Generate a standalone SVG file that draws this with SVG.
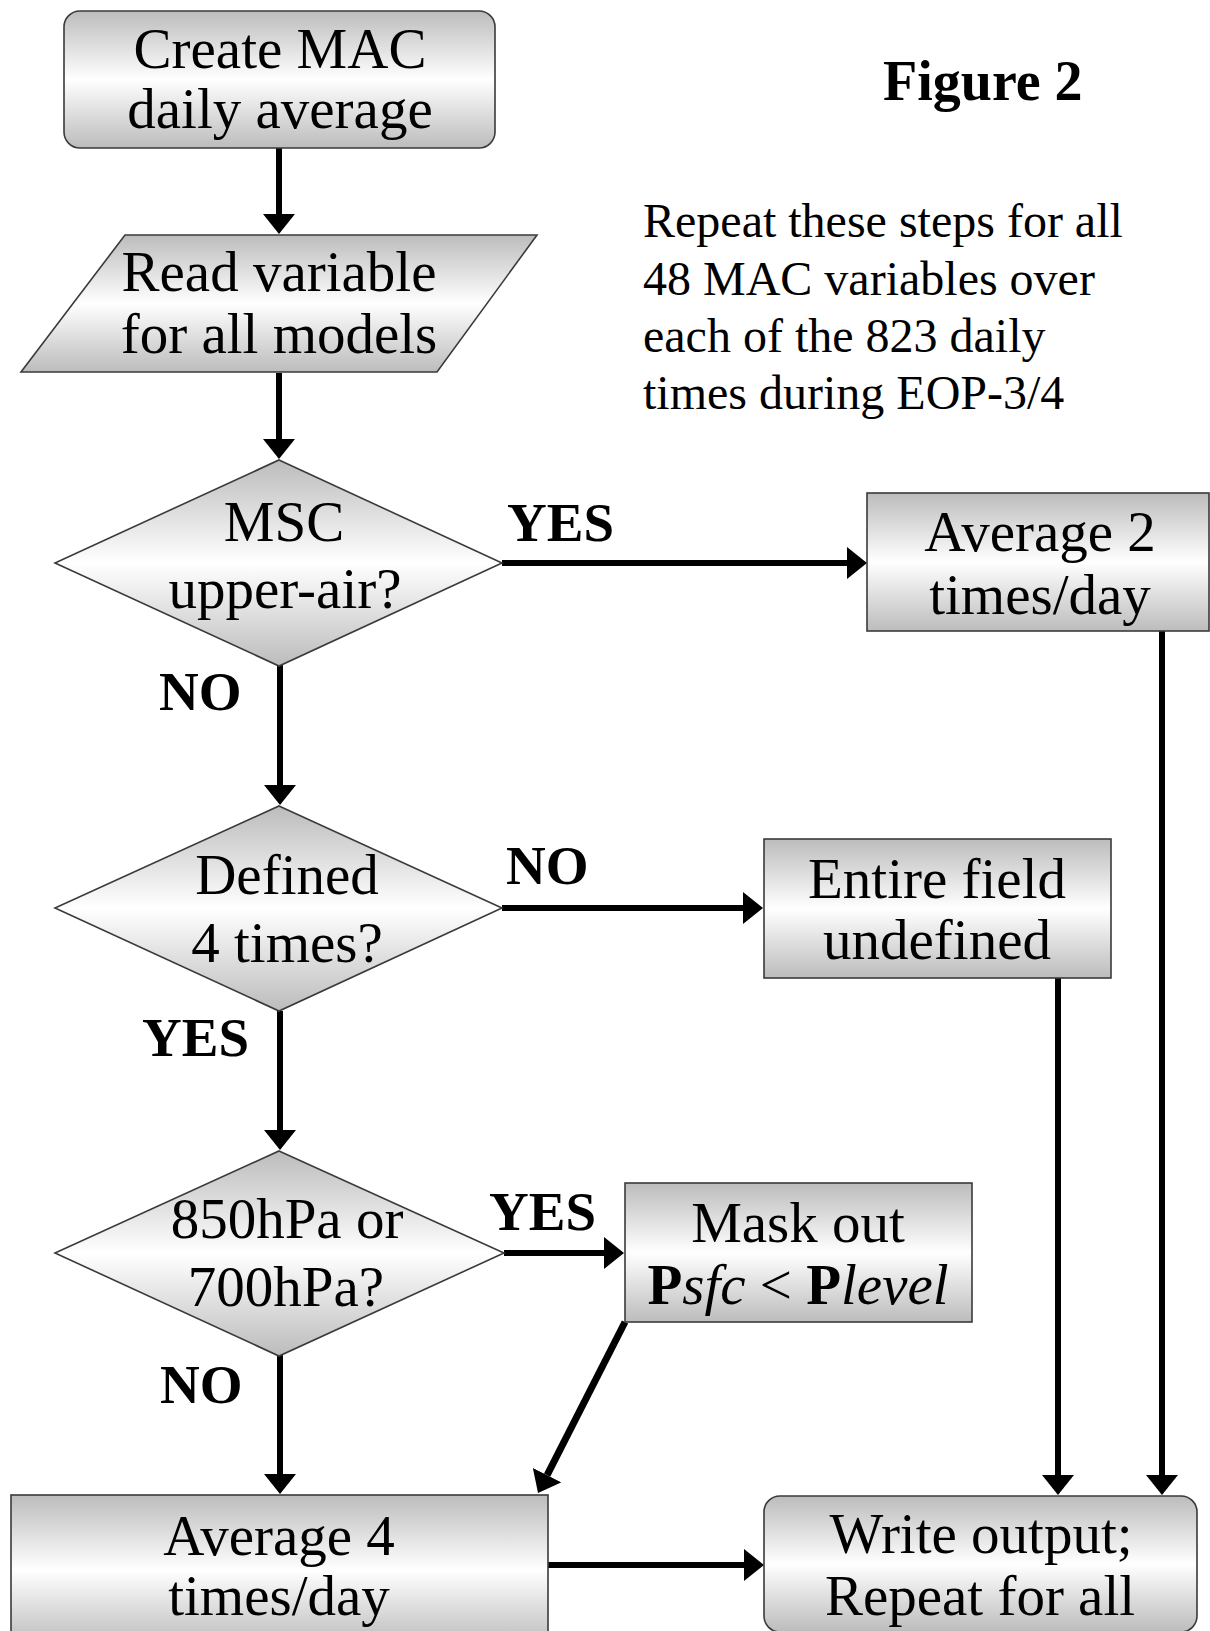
<svg xmlns="http://www.w3.org/2000/svg" width="1210" height="1631" viewBox="0 0 1210 1631">
<defs>
<linearGradient id="g" x1="0" y1="0" x2="0" y2="1">
<stop offset="0" stop-color="#bcbcbc"/>
<stop offset="0.5" stop-color="#ffffff"/>
<stop offset="1" stop-color="#bcbcbc"/>
</linearGradient>
<marker id="ah" markerUnits="userSpaceOnUse" markerWidth="20" markerHeight="32" refX="0" refY="16" orient="auto" viewBox="0 0 20 32">
<path d="M0,0 L20,16 L0,32 z" fill="#000"/>
</marker>
<style>
.shape{fill:url(#g);stroke:#3a3a3a;stroke-width:1.6}
.t{font-family:"Liberation Serif","Times New Roman",serif;font-size:57px;fill:#000;text-anchor:middle}
.lbl{font-family:"Liberation Serif","Times New Roman",serif;font-size:55px;font-weight:bold;fill:#000}
.note{font-family:"Liberation Serif","Times New Roman",serif;font-size:48px;fill:#000}
.c{stroke:#000;stroke-width:6;fill:none;marker-end:url(#ah)}
</style>
</defs>
<rect width="1210" height="1631" fill="#fff"/>

<g id="connectors">
<line class="c" x1="279" y1="148" x2="279" y2="214"/>
<line class="c" x1="279" y1="373" x2="279" y2="439"/>
<line class="c" x1="502" y1="563" x2="847" y2="563"/>
<line class="c" x1="280" y1="665" x2="280" y2="785"/>
<line class="c" x1="502" y1="908" x2="743" y2="908"/>
<line class="c" x1="280" y1="1011" x2="280" y2="1130"/>
<line class="c" x1="504" y1="1253" x2="604" y2="1253"/>
<line class="c" x1="280" y1="1355" x2="280" y2="1474"/>
<line class="c" x1="625" y1="1322" x2="547.1" y2="1475.2" style="stroke-width:7"/>
<line class="c" x1="548" y1="1565" x2="744" y2="1565"/>
<line class="c" x1="1058" y1="978" x2="1058" y2="1475"/>
<line class="c" x1="1162" y1="631" x2="1162" y2="1475"/>
</g>

<g id="create">
<rect class="shape" x="64" y="11" width="431" height="137" rx="16"/>
<text class="t" x="280" y="68">Create MAC</text>
<text class="t" x="280" y="128">daily average</text>
</g>

<g id="read">
<polygon class="shape" points="125,235 537,235 437,372 21,372"/>
<text class="t" x="279" y="291">Read variable</text>
<text class="t" x="279" y="353">for all models</text>
</g>

<g id="msc">
<polygon class="shape" points="279,460 502,563 279,666 55,563"/>
<text class="t" x="284" y="541">MSC</text>
<text class="t" x="285" y="608">upper-air?</text>
</g>

<g id="defined">
<polygon class="shape" points="279,806 502,908 279,1011 55,908"/>
<text class="t" x="287" y="894">Defined</text>
<text class="t" x="287" y="962">4 times?</text>
</g>

<g id="p850">
<polygon class="shape" points="279,1151 504,1253 279,1356 55,1253"/>
<text class="t" x="287" y="1238">850hPa or</text>
<text class="t" x="286" y="1306">700hPa?</text>
</g>

<g id="avg2">
<rect class="shape" x="867" y="493" width="342" height="138"/>
<text class="t" x="1040" y="551">Average 2</text>
<text class="t" x="1040" y="614">times/day</text>
</g>

<g id="entire">
<rect class="shape" x="764" y="839" width="347" height="139"/>
<text class="t" x="937" y="898">Entire field</text>
<text class="t" x="937" y="959">undefined</text>
</g>

<g id="mask">
<rect class="shape" x="625" y="1183" width="347" height="139"/>
<text class="t" x="798" y="1242">Mask out</text>
<text class="t" x="798" y="1304"><tspan font-weight="bold">P</tspan><tspan font-style="italic">sfc</tspan> &lt; <tspan font-weight="bold">P</tspan><tspan font-style="italic">level</tspan></text>
</g>

<g id="avg4">
<rect class="shape" x="11" y="1495" width="537" height="150"/>
<text class="t" x="279" y="1555">Average 4</text>
<text class="t" x="279" y="1615">times/day</text>
</g>

<g id="write">
<rect class="shape" x="764" y="1496" width="433" height="136" rx="16"/>
<text class="t" x="981" y="1553">Write output;</text>
<text class="t" x="980" y="1615">Repeat for all</text>
</g>

<g id="labels">
<text class="lbl" x="507" y="541">YES</text>
<text class="lbl" x="159" y="710">NO</text>
<text class="lbl" x="506" y="884">NO</text>
<text class="lbl" x="142" y="1056">YES</text>
<text class="lbl" x="489" y="1230">YES</text>
<text class="lbl" x="160" y="1403">NO</text>
</g>

<g id="notes">
<text class="lbl" x="883" y="100" style="font-size:56px">Figure 2</text>
<text class="note" x="643" y="237">Repeat these steps for all</text>
<text class="note" x="643" y="295">48 MAC variables over</text>
<text class="note" x="643" y="352">each of the 823 daily</text>
<text class="note" x="643" y="409">times during EOP-3/4</text>
</g>
</svg>
